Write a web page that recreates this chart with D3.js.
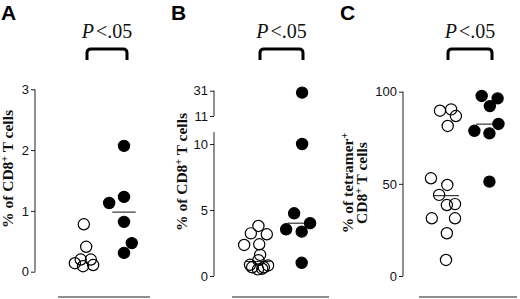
<!DOCTYPE html>
<html><head><meta charset="utf-8">
<script src="https://cdn.jsdelivr.net/npm/d3@7"></script>
<style>body{margin:0;background:#fff}svg{display:block}</style>
</head><body>
<svg id="c" width="520" height="299"></svg>
<script>
// ---- data ----
const panelLetters = ["A", "B", "C"];
const pLabel = "<.05";
const openA = [0.78, 0.41, 0.2, 0.2, 0.14, 0.09, 0.11];
const openAJitter = [-0.03, 0.03, -0.11, 0.15, -0.26, -0.05, 0.21];
const filledA = [2.07, 1.13, 1.23, 0.82, 0.47, 0.31];
const filledAJitter = [0, -0.38, 0, 0, 0.2, 0];
const medianA = [null, 0.98];
const ticksA = [0, 1, 2, 3];

const openB = [3.79, 3.23, 3.16, 2.35, 2.4, 1.6, 1.2, 0.85, 0.66, 0.5, 0.66, 0.8, 0.55];
const openBJitter = [0.01, -0.17, 0.21, -0.33, 0.03, 0.05, 0.01, -0.19, -0.14, 0, 0.14, 0.24, 0.1];
const filledB = [29.5, 10, 4.75, 3.54, 4.0, 3.36, 1.0];
const filledBJitter = [0.05, 0.05, -0.14, -0.33, 0.24, 0.04, 0.04];
const medianB = [1.1, 4.0];
const ticksBLow = [0, 5, 10];
const ticksBHigh = [11, 31];

const openC = [89.7, 90.4, 86.8, 81.4, 53, 49.4, 44, 38.5, 39, 31.3, 31.3, 23.2, 8.7];
const openCJitter = [-0.14, 0.12, 0.23, 0.04, -0.35, 0.03, -0.16, 0.02, 0.21, -0.33, 0.21, 0.02, 0];
const filledC = [97.7, 96.4, 92.2, 82.5, 78.8, 77.4, 51.2];
const filledCJitter = [-0.17, 0.2, 0.02, 0.22, -0.34, 0.01, 0.01];
const medianC = [43.6, 82.4];
const ticksC = [0, 50, 100];

// ---- drawing ----
const svg = d3.select("#c");
const R = 5.6;
const tickFont = "'Liberation Sans', Arial, sans-serif";
const serif = "'Liberation Serif', 'Times New Roman', serif";

function drawPanel(o) {
  const g = svg.append("g");
  g.append("text").attr("x", o.letterX).attr("y", 20)
    .attr("font-family", tickFont).attr("font-weight", "bold").attr("font-size", 21)
    .text(o.letter);
  o.axes.forEach(a => {
    const ax = d3.axisLeft(a.scale).tickValues(a.ticks).tickFormat(d3.format("d"))
      .tickSize(4).tickPadding(2).tickSizeOuter(0);
    const ag = g.append("g").attr("transform", `translate(${o.axisX},0)`).call(ax);
    ag.select(".domain").attr("d", `M0,${a.scale(a.extent[0])}V${a.scale(a.extent[1])}`)
      .attr("stroke", "#222").attr("stroke-width", 1);
    ag.selectAll(".tick line").attr("stroke", "#222");
    ag.selectAll(".tick text").attr("font-family", tickFont).attr("font-size", 13).attr("fill", "#111");
  });
  const lab = g.append("text")
    .attr("transform", `translate(${o.labelX},${o.labelY}) rotate(-90)`)
    .attr("text-anchor", "middle").attr("font-family", serif).attr("font-weight", "bold")
    .attr("font-size", 15.5).attr("fill", "#111");
  o.labelLines.forEach((line, i) => {
    const t = lab.append("tspan").attr("x", 0).attr("dy", i === 0 ? 0 : 14);
    line.forEach(part => {
      if (part.sup) t.append("tspan").attr("baseline-shift", "super").attr("font-size", 10).text(part.t);
      else t.append("tspan").text(part.t);
    });
  });
  o.medians.forEach((m, gi) => {
    if (m == null) return;
    g.append("line").attr("x1", o.x(gi - 0.3)).attr("x2", o.x(gi + 0.3))
      .attr("y1", o.y(m)).attr("y2", o.y(m)).attr("stroke", "#333").attr("stroke-width", 1.2);
  });
  [[o.open, o.openJ, 0], [o.filled, o.filledJ, 1]].forEach(([vals, jit, gi]) => {
    g.selectAll(null).data(vals).enter().append("circle")
      .attr("cx", (d, i) => o.x(gi + jit[i]))
      .attr("cy", d => o.y(d))
      .attr("r", R)
      .attr("fill", gi ? "#000" : "none")
      .attr("stroke", "#000").attr("stroke-width", 1.2);
  });
  const x0 = o.x(0) + 2, x1 = o.x(1) + 3, mid = (x0 + x1) / 2;
  const pt = g.append("text").attr("x", mid).attr("y", 38).attr("text-anchor", "middle")
    .attr("font-family", serif).attr("font-size", 20).attr("fill", "#111");
  pt.append("tspan").attr("font-style", "italic").text("P");
  pt.append("tspan").attr("dx", 2).text(pLabel);
  const top = 49, bot = 60, r = 4;
  g.append("path")
    .attr("d", `M${x0},${bot}V${top + r}Q${x0},${top} ${x0 + r},${top}H${x1 - r}Q${x1},${top} ${x1},${top + r}V${bot}`)
    .attr("fill", "none").attr("stroke", "#000").attr("stroke-width", 3);
  g.append("line").attr("x1", o.baseX[0]).attr("x2", o.baseX[1]).attr("y1", 297).attr("y2", 297)
    .attr("stroke", "#222").attr("stroke-width", 1.2);
}

const yA = d3.scaleLinear().domain([0, 3]).range([271.7, 89.3]);
drawPanel({
  letter: panelLetters[0], letterX: 1, axisX: 35,
  axes: [{ scale: yA, ticks: ticksA, extent: [0, 3] }],
  y: yA, x: d3.scaleLinear().domain([0, 1]).range([85, 124]),
  labelX: 13, labelY: 169,
  labelLines: [[{ t: "% of CD8" }, { t: "+", sup: true }, { t: " T cells" }]],
  open: openA, openJ: openAJitter, filled: filledA, filledJ: filledAJitter,
  medians: medianA, baseX: [58, 150]
});

const yBLow = d3.scaleLinear().domain([0, 10]).range([276, 144]);
const yBHigh = d3.scaleLinear().domain([11, 31]).range([116, 90.7]);
const yB = v => v <= 10.9 ? yBLow(v) : yBHigh(v);
drawPanel({
  letter: panelLetters[1], letterX: 171, axisX: 214,
  axes: [{ scale: yBLow, ticks: ticksBLow, extent: [0, 10.9] },
         { scale: yBHigh, ticks: ticksBHigh, extent: [11, 31] }],
  y: yB, x: d3.scaleLinear().domain([0, 1]).range([258, 300]),
  labelX: 187, labelY: 172,
  labelLines: [[{ t: "% of CD8" }, { t: "+", sup: true }, { t: " T cells" }]],
  open: openB, openJ: openBJitter, filled: filledB, filledJ: filledBJitter,
  medians: medianB, baseX: [232, 329]
});

const yC = d3.scaleLinear().domain([0, 100]).range([276, 91.7]);
drawPanel({
  letter: panelLetters[2], letterX: 340, axisX: 403,
  axes: [{ scale: yC, ticks: ticksC, extent: [0, 100] }],
  y: yC, x: d3.scaleLinear().domain([0, 1]).range([446, 489]),
  labelX: 353, labelY: 183,
  labelLines: [[{ t: "% of tetramer" }, { t: "+", sup: true }],
               [{ t: "CD8" }, { t: "+", sup: true }, { t: " T cells" }]],
  open: openC, openJ: openCJitter, filled: filledC, filledJ: filledCJitter,
  medians: medianC, baseX: [419, 517]
});
</script>
</body></html>
